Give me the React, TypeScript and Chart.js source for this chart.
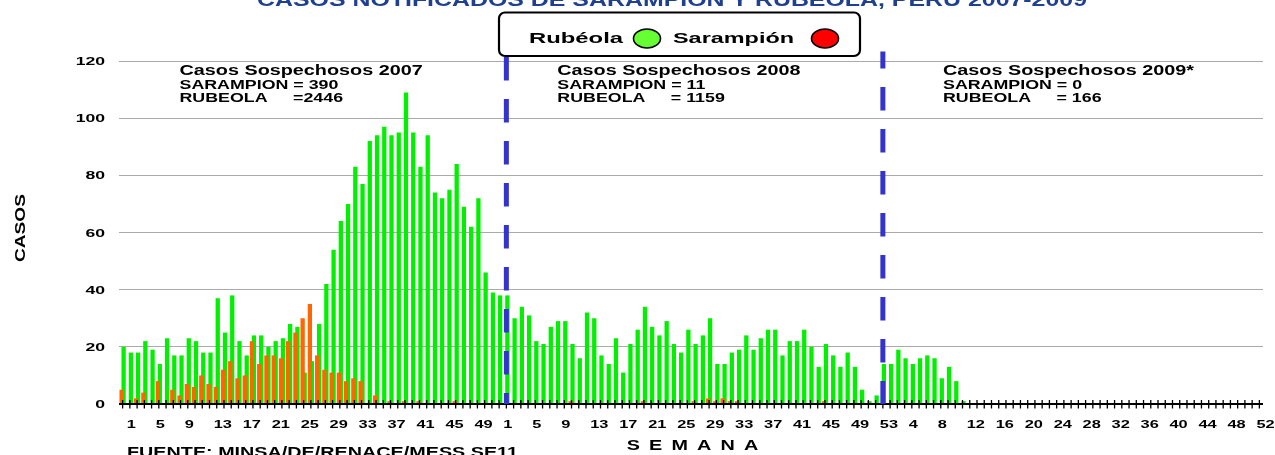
import React, { useEffect, useRef } from 'react';
import { Chart, registerables } from 'chart.js';

Chart.register(...registerables);

// ---- Data (weekly notified cases) ----
const rubeola2007 = [20, 18, 18, 22, 19, 14, 23, 17, 17, 23, 22, 18, 18, 37, 25, 38, 22, 17, 24, 24, 20, 22, 23, 28, 27, 11, 15, 28, 42, 54, 64, 70, 83, 77, 92, 94, 97, 94, 95, 109, 95, 83, 94, 74, 72, 75, 84, 69, 62, 72, 46, 39];
const sarampion2007 = [5, 0, 2, 4, 0, 8, 0, 5, 3, 7, 6, 10, 7, 6, 12, 15, 9, 10, 22, 14, 17, 17, 16, 22, 25, 30, 35, 17, 12, 11, 11, 8, 9, 8, 0, 3, 0, 1, 0, 1, 0, 1, 0, 0, 0, 0, 1, 0, 0, 0, 0, 0];
const rubeola2008 = [38, 38, 30, 34, 31, 22, 21, 27, 29, 29, 21, 16, 32, 30, 17, 14, 23, 11, 21, 26, 34, 27, 24, 29, 21, 18, 26, 21, 24, 30, 14, 14, 18, 19, 24, 19, 23, 26, 26, 17, 22, 22, 26, 20, 13, 21, 17, 13, 18, 13, 5, 1, 3];
const sarampion2008 = [0, 0, 0, 0, 0, 0, 0, 0, 0, 0, 1, 0, 0, 0, 0, 0, 0, 0, 0, 0, 1, 0, 0, 0, 0, 0, 0, 1, 0, 2, 1, 2, 1, 1, 0, 0, 0, 0, 0, 0, 0, 0, 0, 0, 0, 1, 0, 0, 0, 0, 0, 0, 0];
const rubeola2009 = [14, 14, 19, 16, 14, 16, 17, 16, 9, 13, 8, 1];
const sarampion2009 = [0, 0, 0, 0, 0, 0, 0, 0, 0, 0, 0, 0];

// weeks per year shown on the axis (2007, 2008, 2009)
const weeksPerYear = [52, 53, 52];
// axis categories: week numbers (original axis labels sit one slot right of the bars)
const weekLabels = ['', ...weeksPerYear.flatMap((n) => Array.from({ length: n }, (_, i) => String(i + 1)))];
const yTicks = [0, 20, 40, 60, 80, 100, 120];

const titleText = 'CASOS NOTIFICADOS DE SARAMPION Y RUBEOLA, PERU 2007-2009';
const legendLabels = ['Rubéola', 'Sarampión'];
const summaryYears = ['2007', '2008', '2009*'];
const summarySarampion = ['= 390', '= 11', '= 0'];
const summaryRubeola = ['=2446', '= 1159', '= 166'];
const xTitle = 'SEMANA';
const yTitle = 'CASOS';
const sourceText = 'FUENTE: MINSA/DE/RENACE/MESS SE11';

// ---- Build dataset rows ----
const nCat = weekLabels.length;
const padTo = (arr: (number | null)[]) => [...arr, ...new Array(Math.max(0, nCat - arr.length)).fill(null)];
const rubeolaData = padTo([...rubeola2007, ...rubeola2008, ...rubeola2009]);
const sarampionData = padTo([...sarampion2007, ...sarampion2008, ...sarampion2009]);
// separators at the "1" label of 2008 and the "53" label of 2008
const sep1 = 1 + weeksPerYear[0];
const sep2 = weeksPerYear[0] + weeksPerYear[1];

const FONT = '"Liberation Sans", Arial, Helvetica, sans-serif';

type Align = 'left' | 'center' | 'right';
type TextOpt = { k?: number; width?: number; align?: Align; color?: string };
function drawText(ctx: CanvasRenderingContext2D, text: string, x: number, y: number, size: number, opt: TextOpt = {}) {
  ctx.save();
  ctx.font = `bold ${size}px ${FONT}`;
  ctx.fillStyle = opt.color ?? '#000';
  ctx.textAlign = 'left';
  ctx.textBaseline = 'alphabetic';
  const w = ctx.measureText(text).width;
  const k = opt.width ? opt.width / w : opt.k ?? 1;
  const tw = w * k;
  const left = opt.align === 'center' ? x - tw / 2 : opt.align === 'right' ? x - tw : x;
  ctx.translate(left, y);
  ctx.scale(k, 1);
  ctx.fillText(text, 0, 0);
  ctx.restore();
}

const overlay = {
  id: 'overlay',
  afterDatasetsDraw(chart: any) {
    const ctx: CanvasRenderingContext2D = chart.ctx;
    const T = (text: string, x: number, y: number, size: number, opt: TextOpt = {}) => drawText(ctx, text, x, y, size, opt);
    const a = chart.chartArea;
    const x = chart.scales.x;
    const y = chart.scales.y;
    const y0 = y.getPixelForValue(0);

    ctx.save();
    // axis line
    ctx.strokeStyle = '#000';
    ctx.lineWidth = 2;
    ctx.beginPath();
    ctx.moveTo(a.left, y0);
    ctx.lineTo(a.right, y0);
    ctx.stroke();
    // tick marks
    ctx.lineWidth = 1.3;
    ctx.beginPath();
    for (let i = 0; i < nCat; i++) {
      const px = x.getPixelForValue(i);
      ctx.moveTo(px, y0 - 4);
      ctx.lineTo(px, y0 + 4.5);
    }
    ctx.stroke();
    ctx.restore();

    // x tick labels
    for (let i = 0; i < nCat; i++) {
      if (i % 4 === 1) T(weekLabels[i], x.getPixelForValue(i) - 3, y0 + 24, 11.7, { k: 1.4 });
    }
    // y tick labels
    yTicks.forEach((v) => T(String(v), a.left - 14, y.getPixelForValue(v) + 4, 11, { k: 1.6, align: 'right' }));

    // dashed separators
    ctx.save();
    ctx.strokeStyle = '#3434CC';
    ctx.lineWidth = 5;
    ctx.lineCap = 'butt';
    ctx.setLineDash([23.5, 18.5]);
    const xs1 = x.getPixelForValue(sep1);
    ctx.lineDashOffset = 0;
    ctx.beginPath();
    ctx.moveTo(xs1, 57);
    ctx.lineTo(xs1, y0);
    ctx.stroke();
    const xs2 = x.getPixelForValue(sep2);
    ctx.lineDashOffset = 6.5;
    ctx.beginPath();
    ctx.moveTo(xs2, 51.5);
    ctx.lineTo(xs2, y0);
    ctx.stroke();
    ctx.restore();

    // title (cut off at top)
    T(titleText, 257, 6, 18, { width: 830, color: '#1F3F8F' });

    // legend box
    ctx.save();
    ctx.fillStyle = '#fff';
    ctx.strokeStyle = '#000';
    ctx.lineWidth = 2.2;
    ctx.beginPath();
    if ((ctx as any).roundRect) (ctx as any).roundRect(499, 12.5, 361, 43.5, 6);
    else ctx.rect(499, 12.5, 361, 43.5);
    ctx.fill();
    ctx.stroke();
    ctx.restore();
    T(legendLabels[0], 529, 43, 15, { width: 94 });
    T(legendLabels[1], 673, 43, 15, { width: 121 });
    const marker = (mx: number, color: string) => {
      ctx.save();
      ctx.fillStyle = color;
      ctx.strokeStyle = '#000';
      ctx.lineWidth = 1.6;
      ctx.beginPath();
      ctx.ellipse(mx, 38.5, 13.5, 9.5, 0, 0, Math.PI * 2);
      ctx.fill();
      ctx.stroke();
      ctx.restore();
    };
    marker(647, '#66FF33');
    marker(825, '#FF0000');

    // yearly summaries
    const blockX = [179.5, 557.3, 943];
    summaryYears.forEach((yr, i) => {
      const bx = blockX[i];
      T(`Casos Sospechosos ${yr}`, bx, 75, 15, { k: 1.32 });
      T(`SARAMPION ${summarySarampion[i]}`, bx, 89, 13.5, { k: 1.32 });
      T('RUBEOLA', bx, 101.5, 13.5, { k: 1.32 });
      T(summaryRubeola[i], bx + 113.5, 101.5, 13.5, { k: 1.32 });
    });

    // x axis title, letter spaced
    ctx.save();
    ctx.font = `bold 15px ${FONT}`;
    const letters = xTitle.split('');
    const kx = 1.32;
    const widths = letters.map((l) => ctx.measureText(l).width * kx);
    ctx.restore();
    const total = widths.reduce((s, w) => s + w, 0);
    const gap = (131.6 - total) / (letters.length - 1);
    let lx = 626.7;
    letters.forEach((l, i) => {
      T(l, lx, 450, 15, { k: kx });
      lx += widths[i] + gap;
    });

    // y axis title, rotated
    ctx.save();
    ctx.translate(24.5, 228);
    ctx.rotate(-Math.PI / 2);
    T(yTitle, 0, 0, 15, { width: 68, align: 'center' });
    ctx.restore();

    // source
    T(sourceText, 127, 456.7, 14, { width: 391 });
  },
};

export default function App() {
  const ref = useRef<HTMLCanvasElement>(null);
  useEffect(() => {
    if (!ref.current) return;
    const chart = new Chart(ref.current, {
      type: 'bar',
      data: {
        labels: weekLabels,
        datasets: [
          {
            label: legendLabels[1],
            data: sarampionData,
            backgroundColor: '#FF6600',
            categoryPercentage: 0.55,
            barPercentage: 2.15,
          },
          {
            label: legendLabels[0],
            data: rubeolaData,
            backgroundColor: '#00F000',
            categoryPercentage: 0.55,
            barPercentage: 2.15,
          },
        ],
      },
      options: {
        animation: false,
        responsive: false,
        events: [],
        layout: { padding: { left: 119, right: 12, top: 61, bottom: 51 } },
        plugins: {
          legend: { display: false },
          tooltip: { enabled: false },
          title: { display: false },
        },
        scales: {
          x: {
            offset: true,
            grid: { display: false, drawTicks: false },
            border: { display: false },
            ticks: { display: false },
          },
          y: {
            min: 0,
            max: 120,
            ticks: { display: false, stepSize: 20 },
            grid: { color: '#aaaaaa', lineWidth: 1, drawTicks: false },
            border: { display: false },
          },
        },
      },
      plugins: [overlay],
    } as any);
    return () => chart.destroy();
  }, []);
  return (
    <div style={{ position: 'absolute', left: 0, top: 0, width: 1275, height: 455, background: '#fff' }}>
      <canvas ref={ref} width={1275} height={455} style={{ display: 'block', width: 1275, height: 455 }} />
    </div>
  );
}
